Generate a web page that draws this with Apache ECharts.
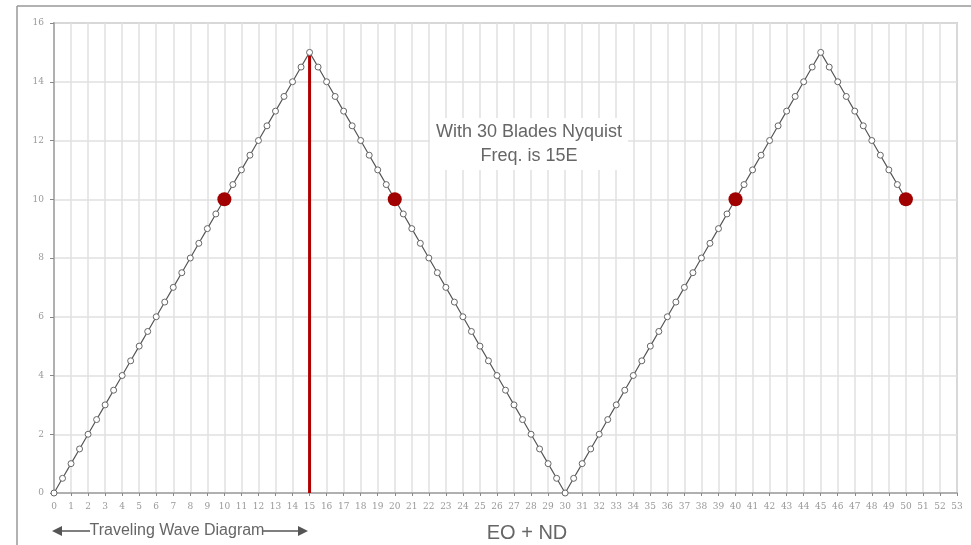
<!DOCTYPE html>
<html>
<head>
<meta charset="utf-8">
<script src="https://cdn.jsdelivr.net/npm/echarts@6/dist/echarts.min.js"></script>
<style>
  html, body { margin: 0; padding: 0; background: #fff; }
  #chart { width: 971px; height: 545px; }
</style>
</head>
<body>
<div id="chart"></div>
<script>
// traveling wave points (EO + ND on x, frequency on y)
var waveX = [0, 0.5, 1, 1.5, 2, 2.5, 3, 3.5, 4, 4.5, 5, 5.5, 6, 6.5, 7, 7.5, 8, 8.5, 9, 9.5,
  10, 10.5, 11, 11.5, 12, 12.5, 13, 13.5, 14, 14.5, 15, 15.5, 16, 16.5, 17, 17.5, 18, 18.5, 19, 19.5,
  20, 20.5, 21, 21.5, 22, 22.5, 23, 23.5, 24, 24.5, 25, 25.5, 26, 26.5, 27, 27.5, 28, 28.5, 29, 29.5,
  30, 30.5, 31, 31.5, 32, 32.5, 33, 33.5, 34, 34.5, 35, 35.5, 36, 36.5, 37, 37.5, 38, 38.5, 39, 39.5,
  40, 40.5, 41, 41.5, 42, 42.5, 43, 43.5, 44, 44.5, 45, 45.5, 46, 46.5, 47, 47.5, 48, 48.5, 49, 49.5, 50];
var waveY = [0, 0.5, 1, 1.5, 2, 2.5, 3, 3.5, 4, 4.5, 5, 5.5, 6, 6.5, 7, 7.5, 8, 8.5, 9, 9.5,
  10, 10.5, 11, 11.5, 12, 12.5, 13, 13.5, 14, 14.5, 15, 14.5, 14, 13.5, 13, 12.5, 12, 11.5, 11, 10.5,
  10, 9.5, 9, 8.5, 8, 7.5, 7, 6.5, 6, 5.5, 5, 4.5, 4, 3.5, 3, 2.5, 2, 1.5, 1, 0.5,
  0, 0.5, 1, 1.5, 2, 2.5, 3, 3.5, 4, 4.5, 5, 5.5, 6, 6.5, 7, 7.5, 8, 8.5, 9, 9.5,
  10, 10.5, 11, 11.5, 12, 12.5, 13, 13.5, 14, 14.5, 15, 14.5, 14, 13.5, 13, 12.5, 12, 11.5, 11, 10.5, 10];
// highlighted points
var hitX = [10, 20, 40, 50];
var hitY = [10, 10, 10, 10];
// nyquist line
var nyqX = [15, 15];
var nyqY = [0, 15];

function pairs(xs, ys) {
  var out = [];
  for (var i = 0; i < xs.length; i++) out.push([xs[i], ys[i]]);
  return out;
}

var chart = echarts.init(document.getElementById('chart'));
var option = {
  animation: false,
  grid: {
    left: 54, top: 23, right: 14, bottom: 52,
    show: true, borderColor: '#aaaaaa', borderWidth: 1.5
  },
  xAxis: {
    type: 'value',
    min: 0, max: 53, interval: 1,
    axisLine: { lineStyle: { color: '#b0b0b0', width: 2 } },
    axisTick: { show: true, length: 3, lineStyle: { color: '#888' } },
    axisLabel: { color: '#999', fontSize: 9, fontFamily: 'DejaVu Serif', margin: 9 },
    splitLine: { show: true, lineStyle: { color: '#e0e0e0', width: 1.5 } }
  },
  yAxis: {
    type: 'value',
    min: 0, max: 16, interval: 2,
    axisLine: { show: true, lineStyle: { color: '#b0b0b0', width: 2 } },
    axisTick: { show: true, length: 4, lineStyle: { color: '#888' } },
    axisLabel: { color: '#999', fontSize: 9, fontFamily: 'DejaVu Serif', margin: 10 },
    splitLine: { show: true, lineStyle: { color: '#e0e0e0', width: 1.5 } }
  },
  series: [
    {
      type: 'line',
      data: pairs(nyqX, nyqY),
      symbol: 'none',
      lineStyle: { color: '#b00000', width: 3 },
      z: 3
    },
    {
      type: 'line',
      data: pairs(waveX, waveY),
      symbol: 'circle',
      symbolSize: 6,
      itemStyle: { color: '#ffffff', borderColor: '#666666', borderWidth: 1 },
      lineStyle: { color: '#555555', width: 1.2 },
      z: 4
    },
    {
      type: 'scatter',
      data: pairs(hitX, hitY),
      symbolSize: 14,
      itemStyle: { color: '#a00000', opacity: 1 },
      z: 5
    }
  ],
  graphic: [
    { type: 'line', shape: { x1: 17, y1: 6, x2: 971, y2: 6 }, style: { stroke: '#999', lineWidth: 1.5 } },
    { type: 'line', shape: { x1: 17, y1: 6, x2: 17, y2: 545 }, style: { stroke: '#999', lineWidth: 1.5 } },
    {
      type: 'text', x: 529, y: 118, z: 10,
      style: {
        text: 'With 30 Blades Nyquist\nFreq. is 15E',
        fill: '#666', font: '18px "Liberation Sans", Arial', align: 'center', verticalAlign: 'top',
        lineHeight: 24, backgroundColor: '#fff', padding: [2, 6]
      }
    },
    { type: 'line', shape: { x1: 60, y1: 531, x2: 90, y2: 531 }, style: { stroke: '#555', lineWidth: 1.5 } },
    { type: 'polygon', shape: { points: [[52, 531], [62, 526], [62, 536]] }, style: { fill: '#555' } },
    { type: 'line', shape: { x1: 263, y1: 531, x2: 300, y2: 531 }, style: { stroke: '#555', lineWidth: 1.5 } },
    { type: 'polygon', shape: { points: [[308, 531], [298, 526], [298, 536]] }, style: { fill: '#555' } },
    {
      type: 'text', x: 177, y: 531,
      style: { text: 'Traveling Wave Diagram', fill: '#666', font: '16px "Liberation Sans", Arial', align: 'center', verticalAlign: 'middle' }
    },
    {
      type: 'text', x: 527, y: 533,
      style: { text: 'EO + ND', fill: '#666', font: '20px "Liberation Sans", Arial', align: 'center', verticalAlign: 'middle' }
    }
  ]
};
chart.setOption(option);
</script>
</body>
</html>
